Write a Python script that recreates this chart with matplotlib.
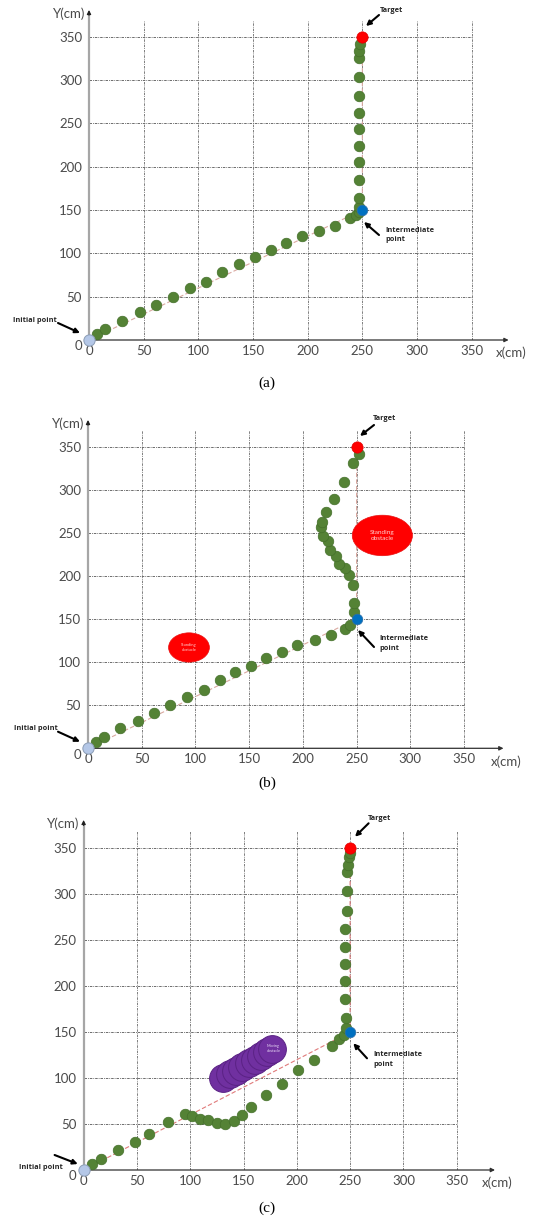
import matplotlib
matplotlib.use('Agg')
import matplotlib.pyplot as plt
from matplotlib.patches import Ellipse

W, H = 535, 1220

TICKS = [0, 50, 100, 150, 200, 250, 300, 350]
TICK_LABELS = [str(t) for t in TICKS]

START = (0, 0)
MIDPOINT = (250, 150)
TARGET = (250, 350)

# (a) free path, cm
a_x = [7, 15, 30, 47, 61, 77, 92, 107, 122, 137, 152, 166, 180, 195, 210, 225, 239,
       244, 246.5, 246.5, 246.5, 246.5, 246.5, 246.5, 246.5, 246.5, 246.5, 246.5, 246.5,
       247, 247.5]
a_y = [7, 12.5, 22.5, 32, 40, 50, 60, 67, 79, 88, 96, 104, 112, 120, 126, 132, 141,
       144, 148, 153, 164, 185, 205, 224, 243, 262, 282, 304, 325, 334, 342]

# (b) path around standing obstacles
b_x = [7, 15, 30, 47, 61, 76, 92, 108, 123, 137, 152, 166, 181, 195, 211, 226, 239,
       244, 248, 248, 247, 243, 239, 234, 231, 225, 223, 219, 217, 218, 222, 229, 238,
       247, 252]
b_y = [7.5, 13, 23, 32, 41, 50, 60, 68, 79, 89, 96, 105, 112, 120, 126, 132, 139,
       143, 158, 169, 189, 201, 209, 214, 223, 230, 240, 246, 257, 263, 274, 289, 309,
       331, 341]

# standing obstacles (b): centre, size in cm
obs_x = [94, 274]
obs_y = [117, 247]
obs_w = [38, 56]
obs_h = [34, 47]
obs_fs = [3.0, 4.6]

# (c) path around moving obstacle
c_x = [8, 16, 32, 48, 61, 79, 95, 102, 109, 117, 125, 133, 141, 149, 157, 171, 186,
       201, 216, 233, 240, 244, 246, 246, 245, 245, 245, 245, 245, 247, 247, 247, 248,
       249, 250]
c_y = [6, 12, 21.5, 30, 39, 52, 61, 59, 56, 54, 51, 50, 53, 60, 68, 82, 94,
       109, 120, 135, 142, 147, 155, 165, 186, 206, 224, 243, 262, 282, 303, 324, 332,
       340, 345]

# moving obstacle positions (c)
mov_x = [131, 137, 143, 149, 155, 161, 166, 172, 177]
mov_y = [100, 104, 108, 112, 116, 120, 124, 128, 132]

GREEN = '#548235'
GREEN_EDGE = '#44702a'
GRID = '#555555'
TXT = '#4a4a4a'
SANS = ['Lato', 'DejaVu Sans']
BOLD = ['Open Sans', 'DejaVu Sans']


def fp(x, y):
    return (x / W, 1 - y / H)


def make_panel(fig, ox, oy, x350, y350, xend, ytop):
    sx = (x350 - ox) / 350
    sy = (oy - y350) / 350
    ax = fig.add_axes([ox / W, 1 - oy / H, (xend - ox) / W, (oy - ytop) / H])
    xmax = (xend - ox) / sx
    ymax = (oy - ytop) / sy
    ax.set_xlim(0, xmax)
    ax.set_ylim(0, ymax)
    for s in ax.spines.values():
        s.set_visible(False)
    ax.patch.set_alpha(0)

    dash = (0, (3, 1.2, 1, 1.2))
    ax.hlines(TICKS[1:], 0, 350, colors=GRID, linestyles=[dash], lw=0.6, zorder=1)
    ax.vlines(TICKS[1:], 0, ymax * 0.97, colors='#6a6a6a', linestyles=[dash], lw=0.6, zorder=1)

    # axes with arrows
    ax.annotate('', xy=(xmax, 0), xytext=(0, 0),
                arrowprops=dict(arrowstyle='-|>', color='#303030', lw=0.9,
                                mutation_scale=6, shrinkA=0, shrinkB=0),
                annotation_clip=False, zorder=3)
    ax.plot([0, 0], [0, ymax - 4], color='#a6a6a6', lw=1.6, clip_on=False, zorder=3)
    ax.annotate('', xy=(0, ymax), xytext=(0, ymax - 6),
                arrowprops=dict(arrowstyle='-|>', color='#202020', lw=0.8,
                                mutation_scale=6, shrinkA=0, shrinkB=0),
                annotation_clip=False, zorder=3)

    ax.set_xticks(TICKS)
    ax.set_xticklabels(TICK_LABELS)
    ax.set_yticks(TICKS[1:])
    ax.set_yticklabels(TICK_LABELS[1:])
    ax.tick_params(axis='both', length=0, labelsize=9.5, labelcolor=TXT)
    ax.tick_params(axis='x', pad=3.5)
    ax.tick_params(axis='y', pad=5)
    for lab in ax.get_xticklabels() + ax.get_yticklabels():
        lab.set_family(SANS)

    fig.text(*fp(ox - 11, oy + 6.5), '0', ha='center', va='center', fontsize=9.5,
             color=TXT, family=SANS)
    fig.text(*fp(ox - 4, ytop + 4), 'Y(cm)', ha='right', va='center', fontsize=9.5,
             color=TXT, family=SANS)
    fig.text(*fp(xend - 13, oy + 13), 'x(cm)', ha='left', va='center', fontsize=9.5,
             color=TXT, family=SANS)
    return ax


def draw_path(ax, xs, ys, ref_color):
    ax.plot([START[0], MIDPOINT[0], TARGET[0]], [START[1], MIDPOINT[1], TARGET[1]],
            color=ref_color, lw=0.8, ls=(0, (4, 2)), zorder=2)
    ax.scatter(xs, ys, s=58, color=GREEN, edgecolors=GREEN_EDGE, linewidths=0.5,
               zorder=5, clip_on=False)
    ax.scatter([MIDPOINT[0]], [MIDPOINT[1]], s=58, color='#0070C0', edgecolors='#2f6fa8',
               linewidths=0.5, zorder=6)
    ax.scatter([TARGET[0]], [TARGET[1]], s=66, color='#ff0000', edgecolors='#e00000',
               linewidths=0.5, zorder=6)
    ax.scatter([START[0]], [START[1]], s=66, color='#b4c7e7', edgecolors='#8c9db5',
               linewidths=0.7, zorder=6, clip_on=False)


def label(fig, x, y, s, ha='left'):
    fig.text(*fp(x, y), s, ha=ha, va='center', fontsize=5.3, fontweight='bold',
             color='#262626', family=BOLD, linespacing=1.5)


def arrow(fig, x0, y0, x1, y1):
    fig.axes[0].annotate('', xy=fp(x1, y1), xytext=fp(x0, y0),
                         xycoords='figure fraction', textcoords='figure fraction',
                         arrowprops=dict(arrowstyle='-|>', color='black', lw=1.5,
                                         mutation_scale=7, shrinkA=0, shrinkB=0),
                         annotation_clip=False)


fig = plt.figure(figsize=(W / 100, H / 100), dpi=100)

# ---- (a) ----
ax_a = make_panel(fig, 89, 340, 471.7, 36.7, 508.6, 10)
draw_path(ax_a, a_x, a_y, '#d9a8a0')
label(fig, 391, 10, 'Target', ha='center')
arrow(fig, 379, 15, 366, 26)
label(fig, 385, 235, 'Intermediate\npoint')
arrow(fig, 379, 235, 364, 222)
label(fig, 13, 320, 'Initial point')
arrow(fig, 58, 323, 80, 333)
fig.text(*fp(267, 383), '(a)', ha='center', va='center', fontsize=11,
         family=['Liberation Serif', 'DejaVu Serif'])

# ---- (b) ----
ax_b = make_panel(fig, 88, 748.3, 464, 446.7, 503.5, 420)
draw_path(ax_b, b_x, b_y, '#d9a8a0')
for x, y, w, h, fs in zip(obs_x, obs_y, obs_w, obs_h, obs_fs):
    ax_b.add_patch(Ellipse((x, y), w, h, facecolor='#ff0000', edgecolor='#e81010',
                           lw=0.5, zorder=3))
    ax_b.text(x, y, 'Standing\nobstacle', ha='center', va='center', fontsize=fs,
              color='#ffd0d0', zorder=4, family=SANS)
label(fig, 384, 419, 'Target', ha='center')
arrow(fig, 374, 425, 360, 436)
label(fig, 379, 643.5, 'Intermediate\npoint')
arrow(fig, 374, 647, 358, 630)
label(fig, 14, 729, 'Initial point')
arrow(fig, 58, 731.7, 80, 741.7)
fig.text(*fp(267, 783), '(b)', ha='center', va='center', fontsize=11,
         family=['Liberation Serif', 'DejaVu Serif'])

# ---- (c) ----
ax_c = make_panel(fig, 83.6, 1170, 456.7, 848.3, 495, 820)
draw_path(ax_c, c_x, c_y, '#e07a7a')
ax_c.scatter(mov_x, mov_y, s=400, color='#7030a0', edgecolors='#5a2284',
             linewidths=0.7, zorder=4)
ax_c.text(mov_x[-1] + 1, mov_y[-1], 'Moving\nobstacle', ha='center', va='center',
          fontsize=2.8, color='#e8d8f5', zorder=5, family=SANS)
label(fig, 379, 818, 'Target', ha='center')
arrow(fig, 368.6, 823.3, 355, 836.7)
label(fig, 373, 1059.5, 'Intermediate\npoint')
arrow(fig, 367, 1058.3, 353.3, 1043.3)
label(fig, 19, 1167.3, 'Initial point')
arrow(fig, 54.6, 1155, 77.8, 1164)
fig.text(*fp(267, 1208), '(c)', ha='center', va='center', fontsize=11,
         family=['Liberation Serif', 'DejaVu Serif'])

fig.savefig('out.png', dpi=100)
